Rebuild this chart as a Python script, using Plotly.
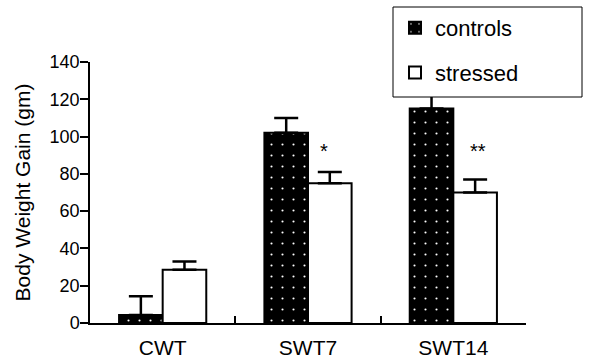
import plotly.graph_objects as go

categories = ["CWT", "SWT7", "SWT14"]
controls = [4.3, 102, 115]
controls_err = [10, 8, 9]
stressed = [28.5, 75, 70]
stressed_err = [4.5, 6, 7]
y_ticks = [0, 20, 40, 60, 80, 100, 120, 140]
sig_labels = ["", "*", "**"]
sig_y = [None, 92, 92]

FONT = "Liberation Sans, Arial, sans-serif"

fig = go.Figure()
fig.add_trace(go.Bar(
    x=categories, y=controls, name="controls", legendgroup="a",
    marker=dict(color="black", line=dict(color="black", width=2),
                pattern=dict(shape=".", bgcolor="black", fgcolor="white",
                             size=11, solidity=0.03, fillmode="replace")),
    error_y=dict(type="data", array=controls_err, arrayminus=[0]*3, symmetric=False,
                 color="black", thickness=2.5, width=12),
))
fig.add_trace(go.Bar(
    x=categories, y=stressed, name="stressed", legendgroup="b",
    marker=dict(color="white", line=dict(color="black", width=2)),
    error_y=dict(type="data", array=stressed_err, arrayminus=[0]*3, symmetric=False,
                 color="black", thickness=2.5, width=12),
))

for cat, lab, yy, xs in zip(categories, sig_labels, sig_y, [0, 16, 25]):
    if lab:
        fig.add_annotation(x=cat, y=yy, text=lab, showarrow=False, xshift=xs,
                           font=dict(family=FONT, size=20, color="black"))

# legend frame (white box that sits over the plot, as in the original)
fig.add_shape(type="rect", xref="paper", yref="paper",
              x0=(393-90)/436, x1=(582-90)/436, y0=(323-97)/261, y1=(323-7)/261,
              line=dict(color="black", width=1), fillcolor="white", layer="above")

fig.update_layout(
    width=589, height=363,
    margin=dict(l=90, r=63, t=62, b=40, autoexpand=False),
    paper_bgcolor="white", plot_bgcolor="white",
    barmode="group", bargap=0.4, bargroupgap=0,
    font=dict(family=FONT, color="black"),
    legend=dict(x=395/589, xref="container", y=1-7/363, yref="container",
                xanchor="left", yanchor="top",
                bgcolor="rgba(0,0,0,0)", borderwidth=0,
                font=dict(family=FONT, size=22, color="black"),
                tracegroupgap=13, itemsizing="constant"),
    xaxis=dict(showline=True, linecolor="black", linewidth=1.5,
               ticks="inside", tickson="boundaries", ticklen=7, tickcolor="black",
               tickwidth=1.5, tickfont=dict(family=FONT, size=21),
               ticklabelstandoff=5, showgrid=False, zeroline=False),
    yaxis=dict(range=[0, 140], tickvals=y_ticks, showline=True, linecolor="black",
               linewidth=1.5, ticks="outside", ticklen=8, tickcolor="black", tickwidth=1.5,
               tickfont=dict(family=FONT, size=18), ticklabelstandoff=-3,
               showgrid=False, zeroline=False,
               title=dict(text="Body Weight Gain (gm)", font=dict(family=FONT, size=21),
                          standoff=13)),
)

fig.write_html("out.html", config={"displayModeBar": False},
               post_script="document.body.style.margin='0';document.body.style.overflow='hidden';")
